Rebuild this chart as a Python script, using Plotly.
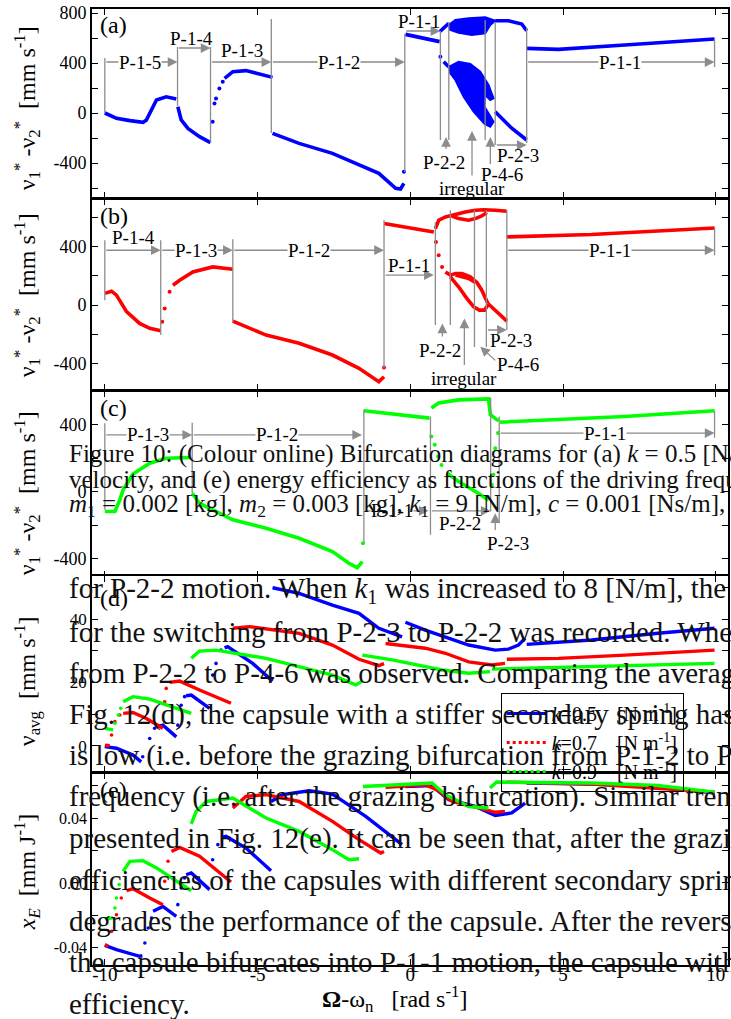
import plotly.graph_objects as go

FONT = "Liberation Serif"
BLUE = "#0000ff"
RED = "#ff0000"
GREEN = "#00ff00"
GREY = "#8c8c8c"

# ---------------- panel (a) : k = 0.5 ----------------
a_p15_x = [-10.0, -9.62, -9.18, -8.75, -8.64, -8.31, -7.99, -7.66]
a_p15_y = [0, -43, -61, -75, -56, 104, 130, 112]
a_p14_x = [-7.61, -7.50, -7.28, -6.90, -6.54]
a_p14_y = [50, -56, -123, -189, -237]
a_p13_dots_x = [-6.47, -6.41, -6.36, -6.25, -6.14]
a_p13_dots_y = [-69, 77, 117, 197, 251]
a_p13_x = [-6.08, -5.81, -5.38, -4.94, -4.51]
a_p13_y = [277, 331, 339, 312, 285]
a_p12_x = [-4.51, -3.64, -2.55, -1.68, -1.35, -1.03, -0.48, -0.32, -0.21]
a_p12_y = [-163, -243, -323, -416, -456, -483, -603, -608, -563]
a_iso_x = [-0.21, 0.985]
a_iso_y = [-469, 450]
a_p11a_x = [-0.16, 0.96]
a_p11a_y = [629, 571]
a_p22u_x = [0.96, 1.26]
a_p22u_y = [650, 717]
a_p22l_x = [1.093, 1.256]
a_p22l_y = [410, 370]
a_cloud_up_x = [1.256, 1.475, 1.909, 2.453, 2.780, 2.617, 2.453, 2.016, 1.582, 1.311]
a_cloud_up_y = [704, 744, 758, 766, 738, 704, 638, 624, 642, 664]
a_cloud_lo_x = [1.279, 1.582, 1.964, 2.290, 2.561, 2.724, 2.617, 2.453, 2.431, 2.724,
                2.617, 2.431, 2.072, 1.746, 1.475, 1.311]
a_cloud_lo_y = [370, 410, 392, 330, 224, 118, 104, 144, 50, -70,
                -110, -88, 10, 130, 264, 318]
a_p23u_x = [2.78, 3.21, 3.65, 3.81]
a_p23u_y = [738, 738, 712, 658]
a_p23l_x = [2.78, 3.32, 3.81]
a_p23l_y = [10, -122, -216]
a_p11b_x = [3.81, 4.85, 7.02, 9.19, 9.96]
a_p11b_y = [517, 509, 544, 578, 592]

# ---------------- panel (b) : k = 0.7 ----------------
b_p14_x = [-10.0, -9.78, -9.62, -9.29, -8.86, -8.53, -8.17]
b_p14_y = [80, 95, 68, -45, -125, -159, -175]
b_dots_x = [-8.12, -8.04, -7.88]
b_dots_y = [-114, -23, 91]
b_p13_x = [-7.77, -7.55, -7.12, -6.47, -5.81]
b_p13_y = [136, 170, 227, 261, 245]
b_p12_x = [-5.81, -4.72, -3.64, -2.55, -1.68, -1.35, -1.03, -0.86]
b_p12_y = [-109, -205, -261, -341, -432, -477, -523, -489]
b_iso_x = [-0.86, 0.84, 0.93, 1.04]
b_iso_y = [-427, 432, 341, 261]
b_p11a_x = [-0.86, 0.77]
b_p11a_y = [557, 500]
b_upA_x = [0.82, 0.93, 1.15, 1.36, 1.80, 2.13, 2.40, 2.78, 3.16]
b_upA_y = [523, 580, 602, 614, 636, 648, 652, 648, 641]
b_upB_x = [1.36, 1.58, 1.91, 2.13, 2.34, 2.51]
b_upB_y = [609, 591, 580, 591, 609, 632]
b_lowA_x = [1.15, 1.31, 1.48, 1.69, 1.96, 2.18, 2.34, 2.48, 2.54]
b_lowA_y = [227, 205, 216, 216, 193, 155, 102, 34, 11]
b_lowB_x = [1.31, 1.58, 1.85, 2.07, 2.26, 2.43, 2.54]
b_lowB_y = [193, 125, 46, -11, -34, -34, 0]
b_lowC_x = [1.48, 1.91, 2.13]
b_lowC_y = [205, 182, 155]
b_p23l_x = [2.54, 3.16]
b_p23l_y = [11, -109]
b_p11b_x = [3.16, 5.93, 9.96]
b_p11b_y = [466, 482, 527]

# ---------------- panel (c) : k = 0.9 ----------------
c_p13_x = [-10.0, -9.67, -9.51, -9.40, -9.08, -8.53, -7.99, -7.23]
c_p13_y = [-119, -119, -50, 10, 104, 169, 199, 203]
c_p12_x = [-7.14, -6.90, -5.81, -4.72, -3.64, -2.55, -2.01, -1.74, -1.57]
c_p12_y = [-10, -70, -169, -219, -279, -358, -428, -454, -418]
c_p11a_x = [-1.52, 0.63]
c_p11a_y = [482, 438]
c_up_x = [0.69, 0.93, 1.58, 2.56, 2.62, 2.89]
c_up_y = [498, 528, 547, 553, 458, 422]
c_low_x = [1.20, 1.58, 2.13, 2.56]
c_low_y = [110, 60, 0, -50]
c_iso_x = [-1.55, 0.69, 0.80, 0.91, 1.02, 2.67, 2.72, 2.78, 2.87]
c_iso_y = [-308, 328, 279, 209, 159, 40, 100, 259, 349]
c_p11b_x = [2.94, 4.85, 7.02, 9.96]
c_p11b_y = [414, 428, 448, 482]

# ---------------- panel (d) : average velocity ----------------
d_blue_segs = [
    ([-10.0, -9.62, -9.08, -8.81], [-0.3, -0.8, -2.9, -5.1]),
    ([-8.31, -8.10, -7.66], [6.0, 6.5, 2.8]),
    ([-7.34, -7.17, -6.57], [15.8, 16.0, 11.8]),
    ([-6.08, -5.98, -5.16, -4.51], [30.9, 31.3, 26.0, 20.4]),
    ([-4.51, -3.64, -2.55, -1.68, -1.03, -0.27], [49.9, 48.1, 44.4, 41.8, 37.1, 34.4]),
    ([-0.16, 0.49, 1.91, 2.78, 3.21, 3.54, 3.76], [39.0, 36.5, 31.8, 30.2, 30.5, 31.8, 33.9]),
    ([3.81, 5.93, 8.11, 9.96], [32.0, 33.4, 35.5, 37.1]),
]
d_blue_dots_x = [-8.76, -8.53, -8.37, -7.61, -7.50, -7.39, -6.47, -6.36, -6.20]
d_blue_dots_y = [-3.5, 2.3, 5.5, 6.5, 12.8, 15.5, 22.3, 26.0, 30.2]
d_red_segs = [
    ([-10.0, -9.84], [0.2, 0.0]),
    ([-9.40, -9.08, -8.64, -8.10], [10.2, 10.5, 8.6, 5.5]),
    ([-7.88, -7.55, -6.90, -5.87], [20.0, 20.4, 17.6, 13.4]),
    ([-5.81, -5.27, -3.64, -2.55, -1.68, -1.25, -1.03, -0.86], [37.1, 37.6, 35.5, 31.8, 27.3, 26.0, 25.3, 25.9]),
    ([-0.81, 0.49, 1.15, 1.91, 2.67, 3.10], [32.3, 30.8, 29.2, 26.5, 25.5, 26.0]),
    ([3.16, 4.85, 7.02, 9.96], [27.3, 27.6, 28.6, 30.2]),
]
d_red_dots_x = [-9.78, -9.67, -9.51, -8.04, -7.99]
d_red_dots_y = [3.4, 7.6, 9.7, 13.9, 18.1]
d_green_segs = [
    ([-10.0, -9.73], [5.5, 5.0]),
    ([-9.40, -9.08, -8.53, -7.17], [13.9, 15.5, 14.7, 10.2]),
    ([-7.17, -6.90, -6.36, -4.72, -2.55, -1.79, -1.57], [27.6, 29.9, 30.2, 27.6, 22.3, 19.2, 20.4]),
    ([-1.57, -0.59, 1.04, 1.91, 2.61], [28.6, 27.1, 23.9, 22.9, 23.4]),
    ([2.67, 5.93, 9.96], [24.2, 25.0, 26.0]),
]
d_green_dots_x = [-9.67, -9.56, -9.48]
d_green_dots_y = [7.1, 9.7, 11.8]

# ---------------- panel (e) : energy efficiency ----------------
e_blue_segs = [
    ([-10.0, -9.62, -8.86, -8.77], [-0.0386, -0.0412, -0.0453, -0.0450]),
    ([-8.42, -8.10, -7.66], [-0.0175, -0.0145, -0.0206]),
    ([-7.34, -7.17, -6.57], [0.0051, 0.0062, -0.0041]),
    ([-6.19, -6.03, -5.38, -4.56], [0.0282, 0.0288, 0.0216, 0.0076]),
    ([-4.56, -4.18, -3.31, -2.55, -1.68, -1.46, -0.27], [0.0504, 0.0546, 0.0570, 0.0550, 0.0440, 0.0412, 0.0237]),
    ([-0.16, 0.71, 0.93, 1.26, 2.13, 2.78, 3.32, 3.76], [0.0597, 0.0603, 0.0566, 0.0515, 0.0473, 0.0418, 0.0433, 0.0494]),
    ([3.81, 5.93, 8.11, 9.96], [0.0618, 0.0612, 0.0597, 0.0556]),
]
e_blue_dots_x = [-8.69, -8.58, -8.47, -7.61, -7.50, -7.39, -6.47, -6.30]
e_blue_dots_y = [-0.0371, -0.0278, -0.0216, -0.0134, -0.0031, 0.0031, 0.0144, 0.0237]
e_red_segs = [
    ([-10.0, -9.89], [-0.0381, -0.0391]),
    ([-9.29, -9.08, -8.53, -8.10], [-0.0048, -0.0035, -0.0093, -0.0134]),
    ([-7.82, -7.55, -6.90, -5.87], [0.0195, 0.0220, 0.0165, 0.0006]),
    ([-5.81, -5.38, -4.72, -3.64, -2.55, -1.68, -0.97, -0.86], [0.0464, 0.0535, 0.0546, 0.0504, 0.0381, 0.0268, 0.0185, 0.0195]),
    ([-0.81, 0.49, 0.93, 1.37, 2.24, 2.78, 3.10], [0.0591, 0.0607, 0.0570, 0.0504, 0.0464, 0.0437, 0.0443]),
    ([3.16, 5.93, 9.96], [0.0624, 0.0612, 0.0562]),
]
e_red_dots_x = [-9.78, -9.62, -9.46, -8.04, -7.93]
e_red_dots_y = [-0.0299, -0.0196, -0.0093, 0.0010, 0.0134]
e_green_segs = [
    ([-10.0, -9.73], [-0.0221, -0.0216]),
    ([-9.40, -9.18, -8.75, -8.31, -7.17], [0.0072, 0.0134, 0.0138, 0.0093, -0.0048]),
    ([-7.17, -7.01, -6.68, -5.81, -4.72, -3.64, -2.55, -2.01, -1.68], [0.0365, 0.0443, 0.0504, 0.0525, 0.0402, 0.0319, 0.0206, 0.0144, 0.0150]),
    ([-1.55, 0.49, 0.71, 1.15, 1.91, 2.56], [0.0597, 0.0618, 0.0618, 0.0546, 0.0473, 0.0464]),
    ([2.61, 2.83, 5.93, 8.11, 9.96], [0.0587, 0.0624, 0.0618, 0.0603, 0.0562]),
]
e_green_dots_x = [-9.67, -9.62, -9.53]
e_green_dots_y = [-0.0155, -0.0093, -0.0010]

NB = "\u00a0"
legend_names = [f"<i>k</i>=0.5{NB*4}[N m<sup>-1</sup>]",
                f"<i>k</i>=0.7{NB*4}[N m<sup>-1</sup>]",
                f"<i>k</i>=0.9{NB*4}[N m<sup>-1</sup>]"]

x_ticks = [-10, -5, 0, 5, 10]

fig = go.Figure()


def ax(row):
    return ("x", "y") if row == 1 else (f"x{row}", f"y{row}")


def add_line(row, xs, ys, color, width=3.6):
    xa, ya = ax(row)
    fig.add_trace(go.Scatter(x=xs, y=ys, mode="lines", xaxis=xa, yaxis=ya,
                             line=dict(color=color, width=width), showlegend=False,
                             hoverinfo="skip"))


def add_dots(row, xs, ys, color, size=4):
    xa, ya = ax(row)
    fig.add_trace(go.Scatter(x=xs, y=ys, mode="markers", xaxis=xa, yaxis=ya,
                             marker=dict(color=color, size=size), showlegend=False,
                             hoverinfo="skip"))


def add_fill(row, xs, ys, color):
    xa, ya = ax(row)
    fig.add_trace(go.Scatter(x=xs + xs[:1], y=ys + ys[:1], mode="lines", fill="toself",
                             xaxis=xa, yaxis=ya, fillcolor=color,
                             line=dict(color=color, width=2), showlegend=False,
                             hoverinfo="skip"))


# panel (a)
for xs, ys in [(a_p15_x, a_p15_y), (a_p14_x, a_p14_y), (a_p13_x, a_p13_y), (a_p12_x, a_p12_y),
               (a_p11a_x, a_p11a_y), (a_p22u_x, a_p22u_y), (a_p22l_x, a_p22l_y),
               (a_p23u_x, a_p23u_y), (a_p23l_x, a_p23l_y), (a_p11b_x, a_p11b_y)]:
    add_line(1, xs, ys, BLUE)
add_dots(1, a_p13_dots_x, a_p13_dots_y, BLUE)
add_dots(1, a_iso_x, a_iso_y, BLUE)
add_fill(1, a_cloud_up_x, a_cloud_up_y, BLUE)
add_fill(1, a_cloud_lo_x, a_cloud_lo_y, BLUE)

# panel (b)
for xs, ys in [(b_p14_x, b_p14_y), (b_p13_x, b_p13_y), (b_p12_x, b_p12_y), (b_p11a_x, b_p11a_y),
               (b_upA_x, b_upA_y), (b_upB_x, b_upB_y), (b_lowA_x, b_lowA_y), (b_lowB_x, b_lowB_y),
               (b_lowC_x, b_lowC_y), (b_p23l_x, b_p23l_y), (b_p11b_x, b_p11b_y)]:
    add_line(2, xs, ys, RED)
add_dots(2, b_dots_x, b_dots_y, RED)
add_dots(2, b_iso_x, b_iso_y, RED)

# panel (c)
for xs, ys in [(c_p13_x, c_p13_y), (c_p12_x, c_p12_y), (c_p11a_x, c_p11a_y), (c_up_x, c_up_y),
               (c_low_x, c_low_y), (c_p11b_x, c_p11b_y)]:
    add_line(3, xs, ys, GREEN)
add_dots(3, c_iso_x, c_iso_y, GREEN)

# panels (d), (e)
for row, segsets in [(4, [(d_blue_segs, d_blue_dots_x, d_blue_dots_y, BLUE),
                          (d_red_segs, d_red_dots_x, d_red_dots_y, RED),
                          (d_green_segs, d_green_dots_x, d_green_dots_y, GREEN)]),
                     (5, [(e_blue_segs, e_blue_dots_x, e_blue_dots_y, BLUE),
                          (e_red_segs, e_red_dots_x, e_red_dots_y, RED),
                          (e_green_segs, e_green_dots_x, e_green_dots_y, GREEN)])]:
    for segs, dx, dy, col in segsets:
        for xs, ys in segs:
            add_line(row, xs, ys, col, width=3.4)
        add_dots(row, dx, dy, col, size=3.6)

# legend-only entries
for name, col, dash in zip(legend_names, [BLUE, RED, GREEN], ["solid", "dot", "dot"]):
    fig.add_trace(go.Scatter(x=[None], y=[None], mode="lines", xaxis="x4", yaxis="y4",
                             name=name, line=dict(color=col, width=3, dash=dash)))

# ---------------- layout ----------------
W, H = 731, 1019
ML, MR, MT, MB = 92, 1, 9, 54
PH = H - MT - MB
PW = W - ML - MR


def py2paper(py):
    return (H - MB - py) / PH


def px2paper(px):
    return (px - ML) / PW


panel_px = [(9, 198), (199, 390), (391, 577), (576, 772), (773, 965)]
y_ranges = [[-680, 832], [-580, 725], [-510, 600], [-8.3, 53.6], [-0.0507, 0.068]]
y_tickvals = [[-600, -400, -200, 0, 200, 400, 600, 800],
              [-400, -200, 0, 200, 400, 600],
              [-400, -200, 0, 200, 400],
              [0, 10, 20, 30, 40, 50],
              [-0.04, -0.02, 0, 0.02, 0.04, 0.06]]
y_ticktext = [["", "-400", "", "0", "", "400", "", "800"],
              ["-400", "", "0", "", "400", ""],
              ["-400", "", "0", "", "400"],
              ["0", "", "20", "", "40", ""],
              ["-0.04", "", "0.00", "", "0.04", ""]]
y_tickfont = [18, 18, 18, 17, 16]

layout = dict(width=W, height=H, margin=dict(l=ML, r=MR, t=MT, b=MB),
              paper_bgcolor="white", plot_bgcolor="white",
              font=dict(family=FONT, color="black", size=18))
for i in range(5):
    sfx = "" if i == 0 else str(i + 1)
    top, bot = panel_px[i]
    layout["xaxis" + sfx] = dict(domain=[0, 1], anchor="y" + sfx, range=[-10.42, 10.4],
                                 tickvals=x_ticks, ticktext=["-10", "-5", "0", "5", "10"],
                                 showticklabels=(i == 4), ticks="inside", ticklen=6,
                                 tickcolor="black", showline=True, linecolor="black",
                                 linewidth=1.6, mirror="ticks", showgrid=False, zeroline=False,
                                 ticklabelstandoff=-9,
                                 tickfont=dict(size=19, family=FONT))
    layout["yaxis" + sfx] = dict(domain=[py2paper(bot), py2paper(top)], anchor="x" + sfx,
                                 range=y_ranges[i], tickvals=y_tickvals[i], ticktext=y_ticktext[i],
                                 ticks="inside", ticklen=6, tickcolor="black", showline=True,
                                 linecolor="black", linewidth=1.6, mirror="ticks",
                                 showgrid=False, zeroline=False,
                                 tickfont=dict(size=y_tickfont[i], family=FONT))
layout["legend"] = dict(x=px2paper(502), y=py2paper(693), xanchor="left", yanchor="top",
                        bgcolor="rgba(0,0,0,0)", bordercolor="black", borderwidth=1,
                        font=dict(family=FONT, size=20), tracegroupgap=0, itemwidth=40)
fig.update_layout(**layout)

annotations = []
shapes = []


def vline(row, x, y0, y1):
    xa, ya = ax(row)
    shapes.append(dict(type="line", xref=xa, yref=ya, x0=x, x1=x, y0=y0, y1=y1,
                       line=dict(color=GREY, width=1.3)))


def arrow(row, x0, y0, x1, y1):
    xa, ya = ax(row)
    annotations.append(dict(x=x1, y=y1, ax=x0, ay=y0, xref=xa, yref=ya, axref=xa, ayref=ya,
                            text="", showarrow=True, arrowhead=2, arrowsize=1.5,
                            arrowwidth=1.3, arrowcolor=GREY))


def label(row, x, y, text, bg=False):
    xa, ya = ax(row)
    annotations.append(dict(x=x, y=y, xref=xa, yref=ya, text=text, showarrow=False,
                            xanchor="center", yanchor="middle",
                            font=dict(family=FONT, size=19, color="black"),
                            bgcolor="white" if bg else "rgba(0,0,0,0)", borderpad=0))


def ptext(px, py, text, size, xanchor="center", angle=0, color="black"):
    annotations.append(dict(x=px2paper(px), y=py2paper(py), xref="paper", yref="paper",
                            xanchor=xanchor, yanchor="middle", text=text, showarrow=False,
                            textangle=angle, font=dict(family=FONT, size=size, color=color)))


# panel (a) annotations
vline(1, -10.0, 0, 440)
arrow(1, -10.0, 408, -7.62, 408); label(1, -8.86, 408, "P-1-5", True)
vline(1, -7.62, 56, 528)
arrow(1, -7.62, 520, -6.54, 520); label(1, -7.16, 600, "P-1-4")
vline(1, -6.54, -240, 528)
arrow(1, -6.54, 408, -4.55, 408); label(1, -5.50, 504, "P-1-3")
vline(1, -4.55, -160, 752)
arrow(1, -4.55, 408, -0.18, 408); label(1, -2.33, 408, "P-1-2", True)
vline(1, -0.18, -472, 632)
arrow(1, -0.18, 656, 0.985, 656); label(1, 0.28, 736, "P-1-1")
vline(1, 0.985, -216, 656)
vline(1, 1.26, -216, 728)
vline(1, 2.45, -216, 744)
vline(1, 2.78, -256, 728)
vline(1, 3.81, -240, 680)
arrow(1, 1.17, -300, 1.17, -192); label(1, 1.09, -392, "P-2-2")
arrow(1, 2.02, -512, 2.02, -144); label(1, 2.02, -600, "irregular")
arrow(1, 2.62, -420, 2.62, -192); label(1, 2.99, -488, "P-4-6")
arrow(1, 2.78, -256, 3.81, -256); label(1, 3.54, -336, "P-2-3")
arrow(1, 3.81, 408, 9.96, 408); label(1, 6.86, 408, "P-1-1", True)
vline(1, 9.96, 368, 592)

# panel (b) annotations
vline(2, -10.0, 34, 443)
arrow(2, -10.0, 375, -8.17, 375); label(2, -9.05, 460, "P-1-4")
vline(2, -8.17, -205, 443)
arrow(2, -8.17, 375, -5.81, 375); label(2, -7.0, 375, "P-1-3", True)
vline(2, -5.81, -116, 450)
arrow(2, -5.81, 375, -0.86, 375); label(2, -3.31, 375, "P-1-2", True)
vline(2, -0.86, -430, 580)
arrow(2, -0.86, 205, 0.77, 205); label(2, -0.05, 273, "P-1-1")
vline(2, 0.82, -136, 566)
vline(2, 1.31, -136, 648)
vline(2, 2.10, -286, 648)
vline(2, 2.49, -286, 648)
vline(2, 3.16, -170, 648)
arrow(2, 1.05, -225, 1.05, -125); label(2, 0.985, -307, "P-2-2")
arrow(2, 1.77, -420, 1.77, -91); label(2, 1.75, -498, "irregular")
arrow(2, 2.83, -387, 2.29, -284); label(2, 3.54, -409, "P-4-6")
arrow(2, 2.49, -170, 3.16, -170); label(2, 3.28, -239, "P-2-3")
arrow(2, 3.16, 375, 9.96, 375); label(2, 6.53, 375, "P-1-1", True)
vline(2, 9.96, 341, 534)

# panel (c) annotations
vline(3, -10.0, -109, 408)
arrow(3, -10.0, 338, -7.14, 338); label(3, -8.60, 338, "P-1-3", True)
vline(3, -7.14, -8, 410)
arrow(3, -7.14, 338, -1.58, 338); label(3, -4.36, 338, "P-1-2", True)
vline(3, -1.52, -306, 488)
arrow(3, -1.52, -115, 0.60, -115); label(3, -0.60, -115, "P-1-1", True)
vline(3, 0.66, -258, 448)
vline(3, 2.63, -119, 559)
vline(3, 2.91, -189, 448)
arrow(3, 0.66, -115, 2.63, -115); label(3, 1.63, -189, "P-2-2")
arrow(3, 2.78, -239, 2.78, -129); label(3, 3.21, -312, "P-2-3")
arrow(3, 2.91, 349, 9.96, 349); label(3, 6.37, 349, "P-1-1", True)
vline(3, 9.96, 321, 482)

# panel letters
for txt, py in [("(a)", 25), ("(b)", 216), ("(c)", 408), ("(d)", 598), ("(e)", 790)]:
    ptext(114, py, txt, 24)

# axis titles
ytitle = "ν<sub>1</sub><sup>*</sup> -ν<sub>2</sub><sup>*</sup>  [mm s<sup>-1</sup>]"
for txt, py in [(ytitle, 108), (ytitle, 295), (ytitle, 493),
                ("ν<sub>avg</sub>  [mm s<sup>-1</sup>]", 681),
                ("<i>x<sub>E</sub></i>  [mm J<sup>-1</sup>]", 872)]:
    ptext(27, py, txt, 24, angle=-90)
ptext(395, 999, "<b>Ω</b>-ω<sub>n</sub>   [rad s<sup>-1</sup>]", 24)

# overlaid page text (caption and body) visible in the picture
caption_lines = [
    "Figure 10: (Colour online) Bifurcation diagrams for (a) <i>k</i> = 0.5 [N/m],",
    "velocity, and (e) energy efficiency as functions of the driving frequency",
    "<i>m</i><sub>1</sub> = 0.002 [kg], <i>m</i><sub>2</sub> = 0.003 [kg], <i>k</i><sub>1</sub> = 9 [N/m], <i>c</i> = 0.001 [Ns/m],",
]
caption_base = [462.7, 488.3, 514.0]
body_lines = [
    "for P-2-2 motion. When <i>k</i><sub>1</sub> was increased to 8 [N/m], the",
    "for the switching from P-2-3 to P-2-2 was recorded. When",
    "from P-2-2 to P-4-6 was observed. Comparing the average",
    "Fig. 12(d), the capsule with a stiffer secondary spring has faster",
    "is low (i.e. before the grazing bifurcation from P-1-2 to P-1-1",
    "frequency (i.e. after the grazing bifurcation). Similar trends",
    "presented in Fig. 12(e). It can be seen that, after the grazing",
    "efficiencies of the capsules with different secondary springs",
    "degrades the performance of the capsule. After the reverse",
    "the capsule bifurcates into P-1-1 motion, the capsule with",
    "efficiency.",
]
body_base = [600 + 41.33 * k for k in range(len(body_lines))]

for txt, base in zip(caption_lines, caption_base):
    ptext(67, base - 8.4, txt, 25, xanchor="left", color="#111")
for txt, base in zip(body_lines, body_base):
    ptext(67, base - 9.8, txt, 29, xanchor="left", color="#111")

fig.update_layout(annotations=annotations, shapes=shapes)
fig.write_html("out.html")
